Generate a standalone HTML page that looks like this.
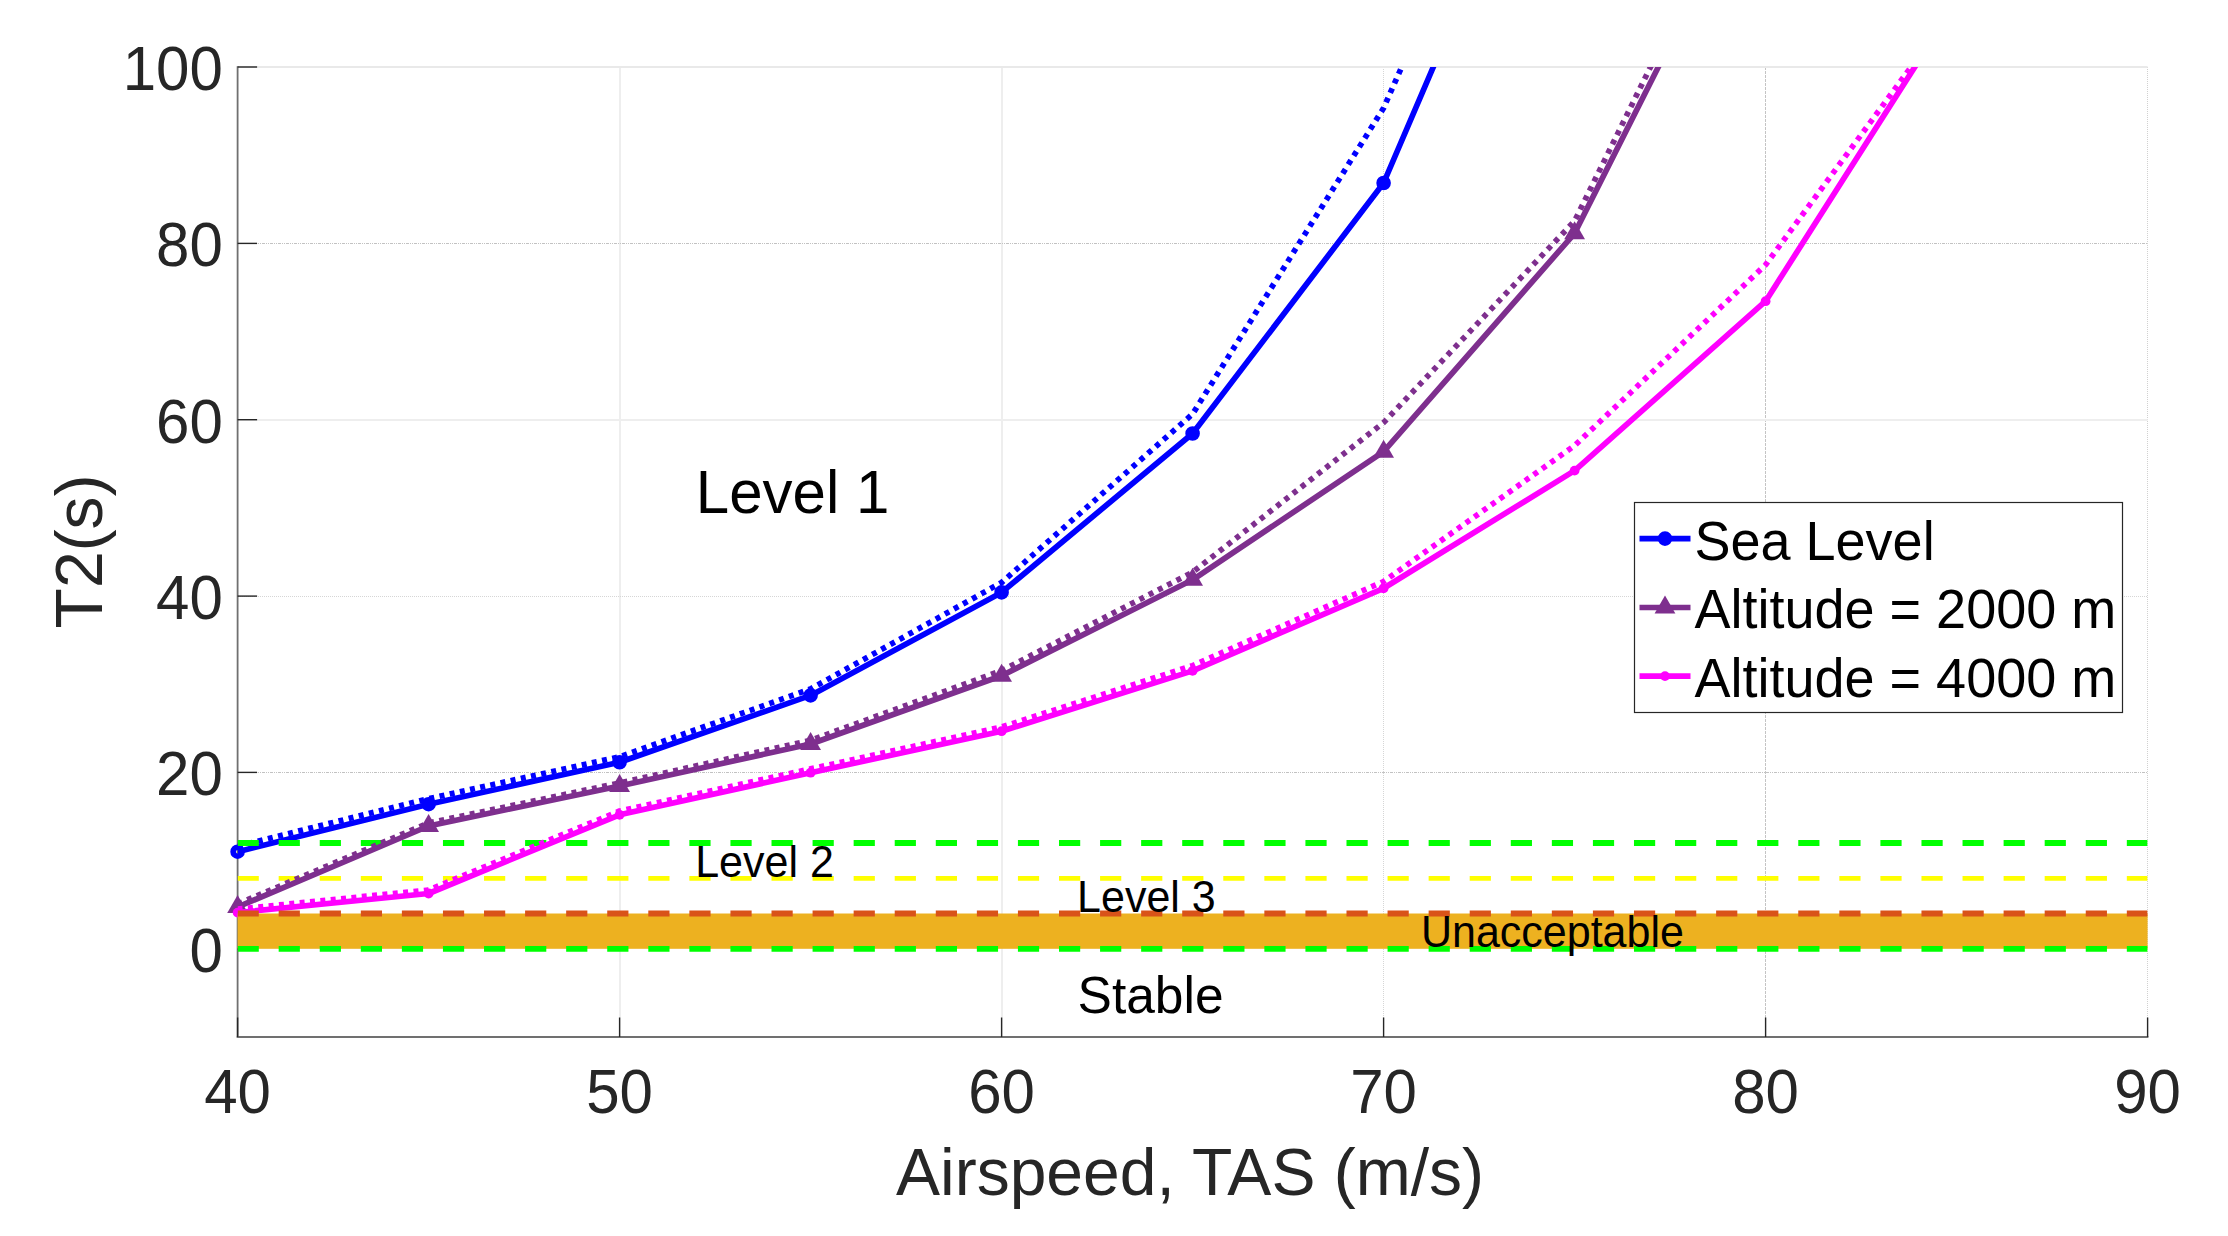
<!DOCTYPE html>
<html lang="en"><head><meta charset="utf-8"><title>T2 vs Airspeed</title>
<style>html,body{margin:0;padding:0;background:#fff}svg{display:block}text{font-family:"Liberation Sans",Arial,Helvetica,sans-serif}</style>
</head><body>
<svg width="2228" height="1236" viewBox="0 0 2228 1236">
<rect width="2228" height="1236" fill="#fff"/>
<defs><clipPath id="ax"><rect x="237.6" y="67.0" width="1910.0" height="970.0"/></clipPath></defs>
<g fill="none">
<line x1="620.0" y1="67.0" x2="620.0" y2="1037.0" stroke="#eeeeee" stroke-width="2" stroke-dasharray="none"/>
<line x1="1002.0" y1="67.0" x2="1002.0" y2="1037.0" stroke="#eeeeee" stroke-width="2" stroke-dasharray="none"/>
<line x1="1383.5" y1="67.0" x2="1383.5" y2="1037.0" stroke="#d6d6d6" stroke-width="1" stroke-dasharray="1 1"/>
<line x1="1765.5" y1="67.0" x2="1765.5" y2="1037.0" stroke="#c4c4c4" stroke-width="1" stroke-dasharray="3 1"/>
<line x1="2147.5" y1="67.0" x2="2147.5" y2="1037.0" stroke="#d0d0d0" stroke-width="1" stroke-dasharray="1 1"/>
<line x1="237.6" y1="67.0" x2="2147.6" y2="67.0" stroke="#e9e9e9" stroke-width="2" stroke-dasharray="none"/>
<line x1="238.0" y1="243.5" x2="2148.0" y2="243.5" stroke="#c2c2c2" stroke-width="1" stroke-dasharray="3 1 1 1 1 1"/>
<line x1="237.6" y1="420.0" x2="2147.6" y2="420.0" stroke="#eeeeee" stroke-width="2" stroke-dasharray="none"/>
<line x1="238.0" y1="596.5" x2="2148.0" y2="596.5" stroke="#d6d6d6" stroke-width="1" stroke-dasharray="1 1"/>
<line x1="238.0" y1="772.5" x2="2148.0" y2="772.5" stroke="#c2c2c2" stroke-width="1" stroke-dasharray="3 1 1 1 1 1"/>
</g>
<g stroke="#707070" stroke-width="1.8" fill="none">
<line x1="237.6" y1="66.2" x2="237.6" y2="1037.8"/>
<line x1="236.8" y1="1037.0" x2="2148.4" y2="1037.0"/>
</g>
<g stroke="#262626" stroke-width="1.4" fill="none">
<line x1="237.6" y1="1037.0" x2="237.6" y2="1017.5"/>
<line x1="619.6" y1="1037.0" x2="619.6" y2="1017.5"/>
<line x1="1001.6" y1="1037.0" x2="1001.6" y2="1017.5"/>
<line x1="1383.6" y1="1037.0" x2="1383.6" y2="1017.5"/>
<line x1="1765.6" y1="1037.0" x2="1765.6" y2="1017.5"/>
<line x1="2147.6" y1="1037.0" x2="2147.6" y2="1017.5"/>
<line x1="237.6" y1="948.8" x2="257.1" y2="948.8"/>
<line x1="237.6" y1="772.4" x2="257.1" y2="772.4"/>
<line x1="237.6" y1="596.1" x2="257.1" y2="596.1"/>
<line x1="237.6" y1="419.7" x2="257.1" y2="419.7"/>
<line x1="237.6" y1="243.4" x2="257.1" y2="243.4"/>
<line x1="237.6" y1="67.0" x2="257.1" y2="67.0"/>
</g>
<g font-size="60" fill="#262626">
<text transform="translate(237.6,1112.6) scale(1,1.04)" text-anchor="middle">40</text>
<text transform="translate(619.6,1112.6) scale(1,1.04)" text-anchor="middle">50</text>
<text transform="translate(1001.6,1112.6) scale(1,1.04)" text-anchor="middle">60</text>
<text transform="translate(1383.6,1112.6) scale(1,1.04)" text-anchor="middle">70</text>
<text transform="translate(1765.6,1112.6) scale(1,1.04)" text-anchor="middle">80</text>
<text transform="translate(2147.6,1112.6) scale(1,1.04)" text-anchor="middle">90</text>
<text transform="translate(222.8,971.8) scale(1,1.04)" text-anchor="end">0</text>
<text transform="translate(222.8,795.4) scale(1,1.04)" text-anchor="end">20</text>
<text transform="translate(222.8,619.1) scale(1,1.04)" text-anchor="end">40</text>
<text transform="translate(222.8,442.7) scale(1,1.04)" text-anchor="end">60</text>
<text transform="translate(222.8,266.4) scale(1,1.04)" text-anchor="end">80</text>
<text transform="translate(222.8,90.0) scale(1,1.04)" text-anchor="end">100</text>
</g>
<text transform="translate(1190,1194.6) scale(1,1.02)" font-size="66" fill="#262626" text-anchor="middle">Airspeed, TAS (m/s)</text>
<text transform="translate(101.9,551.4) rotate(-90) scale(1,1.02)" font-size="66" fill="#262626" text-anchor="middle">T2(s)</text>
<polyline points="237.6,851.7 428.6,804.2 619.6,762.3 810.6,695.4 1001.6,592.4 1192.6,433.5 1383.6,183.0 1532.7,-165.0" fill="none" stroke="#0000ff" stroke-width="5.7" stroke-linejoin="round" clip-path="url(#ax)"/>
<polyline points="237.6,846.2 428.6,798.7 619.6,756.8 810.6,688.9 1001.6,582.5 1192.6,414.0 1383.6,108.0 1437.9,-15.0" fill="none" stroke="#0000ff" stroke-width="5.7" stroke-linejoin="round" stroke-dasharray="5.0 5.4" clip-path="url(#ax)"/>
<g fill="none" stroke="#0000ff" stroke-width="5.6">
<circle cx="237.6" cy="851.7" r="4.5"/>
<circle cx="428.6" cy="804.2" r="4.5"/>
<circle cx="619.6" cy="762.3" r="4.5"/>
<circle cx="810.6" cy="695.4" r="4.5"/>
<circle cx="1001.6" cy="592.4" r="4.5"/>
<circle cx="1192.6" cy="433.5" r="4.5"/>
<circle cx="1383.6" cy="183.0" r="4.5"/>
</g>
<line x1="237.6" y1="843.0" x2="2147.6" y2="843.0" stroke="#00ff00" stroke-width="5.8" stroke-dasharray="21.2 19.87" clip-path="url(#ax)"/>
<line x1="237.6" y1="878.3" x2="2147.6" y2="878.3" stroke="#ffff00" stroke-width="4.8" stroke-dasharray="21.2 19.87" clip-path="url(#ax)"/>
<polyline points="237.6,907.0 428.6,826.0 619.6,786.0 810.6,744.0 1001.6,675.8 1192.6,579.8 1383.6,451.7 1574.6,233.3 1825.7,-265.6" fill="none" stroke="#7e2f8e" stroke-width="5.7" stroke-linejoin="round" clip-path="url(#ax)"/>
<polyline points="237.6,904.0 428.6,823.0 619.6,783.0 810.6,740.3 1001.6,670.6 1192.6,572.2 1383.6,422.6 1574.6,221.0 1802.3,-241.0" fill="none" stroke="#7e2f8e" stroke-width="5.7" stroke-linejoin="round" stroke-dasharray="5.0 5.4" clip-path="url(#ax)"/>
<g fill="#7e2f8e">
<polygon points="237.6,895.0 227.2,913.0 248.0,913.0"/>
<polygon points="428.6,814.0 418.2,832.0 439.0,832.0"/>
<polygon points="619.6,774.0 609.2,792.0 630.0,792.0"/>
<polygon points="810.6,732.0 800.2,750.0 821.0,750.0"/>
<polygon points="1001.6,663.8 991.2,681.8 1012.0,681.8"/>
<polygon points="1192.6,567.8 1182.2,585.8 1203.0,585.8"/>
<polygon points="1383.6,439.7 1373.2,457.7 1394.0,457.7"/>
<polygon points="1574.6,221.3 1564.2,239.3 1585.0,239.3"/>
</g>
<polyline points="237.6,912.6 428.6,893.5 619.6,814.8 810.6,772.7 1001.6,731.2 1192.6,670.9 1383.6,588.3 1574.6,470.6 1765.6,301.2 2213.2,-401.4" fill="none" stroke="#ff00ff" stroke-width="5.7" stroke-linejoin="round" clip-path="url(#ax)"/>
<polyline points="237.6,909.1 428.6,890.0 619.6,811.0 810.6,768.9 1001.6,727.0 1192.6,665.6 1383.6,581.5 1574.6,445.6 1765.6,264.8 2201.8,-328.6" fill="none" stroke="#ff00ff" stroke-width="5.7" stroke-linejoin="round" stroke-dasharray="5.0 5.4" clip-path="url(#ax)"/>
<g fill="#ff00ff">
<circle cx="237.6" cy="912.6" r="4.9"/>
<circle cx="428.6" cy="893.5" r="4.9"/>
<circle cx="619.6" cy="814.8" r="4.9"/>
<circle cx="810.6" cy="772.7" r="4.9"/>
<circle cx="1001.6" cy="731.2" r="4.9"/>
<circle cx="1192.6" cy="670.9" r="4.9"/>
<circle cx="1383.6" cy="588.3" r="4.9"/>
<circle cx="1574.6" cy="470.6" r="4.9"/>
<circle cx="1765.6" cy="301.2" r="4.9"/>
</g>
<rect x="237.6" y="913.5" width="1910.0" height="35.3" fill="#edb120"/>
<line x1="237.6" y1="913.5" x2="2147.6" y2="913.5" stroke="#d95319" stroke-width="5.8" stroke-dasharray="21.2 19.87" clip-path="url(#ax)"/>
<line x1="237.6" y1="948.8" x2="2147.6" y2="948.8" stroke="#00ff00" stroke-width="5.8" stroke-dasharray="21.2 19.87" clip-path="url(#ax)"/>
<g fill="#000">
<text transform="translate(695.8,512.8) scale(1,1.02)" font-size="60">Level 1</text>
<text transform="translate(695.2,876.7) scale(1,1.02)" font-size="43">Level 2</text>
<text transform="translate(1077.1,912) scale(1,1.02)" font-size="43">Level 3</text>
<text transform="translate(1421,947.1) scale(1,1.02)" font-size="43">Unacceptable</text>
<text transform="translate(1077.6,1013.2) scale(1,1.02)" font-size="51.5">Stable</text>
</g>
<rect x="1634.5" y="502.5" width="488" height="210" fill="#fff" stroke="#262626" stroke-width="1.2"/>
<line x1="1639.5" y1="538.6" x2="1690.5" y2="538.6" stroke="#0000ff" stroke-width="5.7"/>
<circle cx="1665" cy="538.6" r="4.5" fill="none" stroke="#0000ff" stroke-width="5.6"/>
<text transform="translate(1694.5,559.5) scale(1,1.02)" font-size="54" fill="#000">Sea Level</text>
<line x1="1639.5" y1="607.5" x2="1690.5" y2="607.5" stroke="#7e2f8e" stroke-width="5.7"/>
<polygon points="1665,595.5 1654.6,613.5 1675.4,613.5" fill="#7e2f8e"/>
<text transform="translate(1694.5,628.2) scale(1,1.02)" font-size="54" fill="#000">Altitude = 2000 m</text>
<line x1="1639.5" y1="676.1" x2="1690.5" y2="676.1" stroke="#ff00ff" stroke-width="5.7"/>
<circle cx="1665" cy="676.1" r="4.9" fill="#ff00ff"/>
<text transform="translate(1694.5,696.5) scale(1,1.02)" font-size="54" fill="#000">Altitude = 4000 m</text>
</svg></body></html>
